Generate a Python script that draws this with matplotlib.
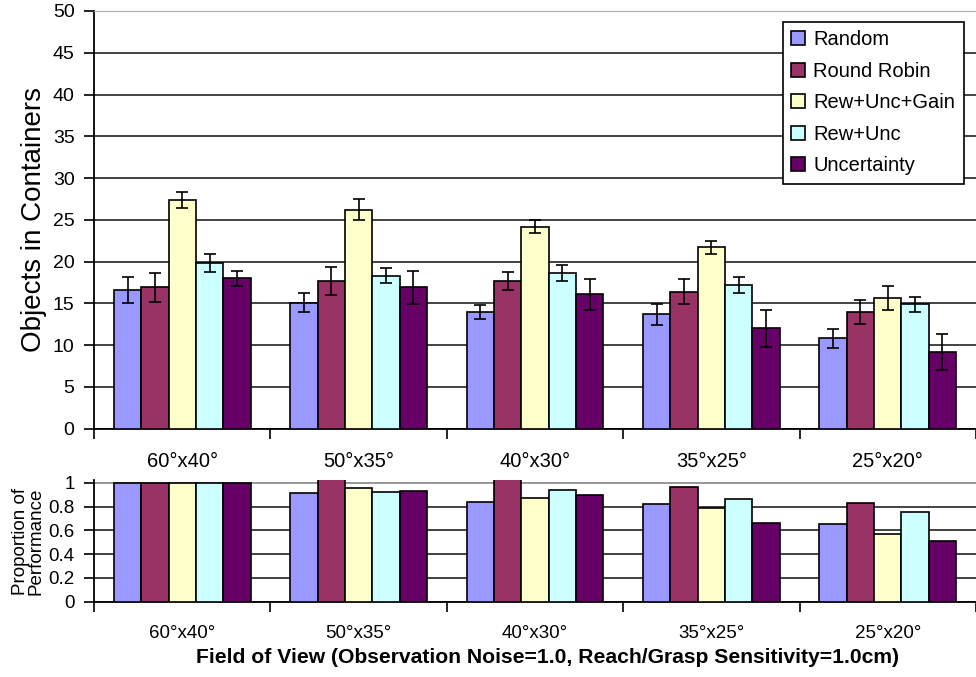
import numpy as np
import matplotlib
matplotlib.use('Agg')
import matplotlib.pyplot as plt

plt.rcParams['font.family'] = ['Liberation Sans', 'DejaVu Sans']

# field of view categories
fov = ['60°x40°', '50°x35°', '40°x30°', '35°x25°', '25°x20°']
methods = ['Random', 'Round Robin', 'Rew+Unc+Gain', 'Rew+Unc', 'Uncertainty']
colors = ['#9999FF', '#993366', '#FFFFCC', '#CCFFFF', '#660066']

# objects in containers (mean) per method
random_obj = [16.6, 15.1, 14.0, 13.7, 10.8]
rr_obj = [16.9, 17.7, 17.7, 16.4, 14.0]
rug_obj = [27.4, 26.2, 24.2, 21.7, 15.6]
ru_obj = [19.8, 18.3, 18.6, 17.2, 14.9]
unc_obj = [18.0, 16.9, 16.1, 12.0, 9.2]

# error bar half widths
random_err = [1.5, 1.1, 0.85, 1.25, 1.1]
rr_err = [1.7, 1.7, 1.1, 1.5, 1.45]
rug_err = [0.95, 1.25, 0.8, 0.8, 1.45]
ru_err = [1.05, 0.9, 0.95, 0.9, 0.9]
unc_err = [0.9, 1.95, 1.85, 2.2, 2.15]

# proportion of performance (relative to 60x40)
random_prop = [1.0, 0.91, 0.84, 0.82, 0.65]
rr_prop = [1.0, 1.05, 1.05, 0.965, 0.83]
rug_prop = [1.0, 0.955, 0.875, 0.79, 0.565]
ru_prop = [1.0, 0.92, 0.94, 0.865, 0.755]
unc_prop = [1.0, 0.93, 0.90, 0.665, 0.51]

obj = [random_obj, rr_obj, rug_obj, ru_obj, unc_obj]
err = [random_err, rr_err, rug_err, ru_err, unc_err]
prop = [random_prop, rr_prop, rug_prop, ru_prop, unc_prop]

x = np.arange(len(fov))
w = 0.155

fig = plt.figure(figsize=(9.76, 6.77), dpi=100)
ax = fig.add_axes([0.0963, 0.3668, 0.9037, 0.6170])
ax2 = fig.add_axes([0.0963, 0.1112, 0.9037, 0.1793])

grid_c = '#222222'

for k in range(5):
    pos = x + (k - 2) * w
    ax.bar(pos, obj[k], w, color=colors[k], edgecolor='black', linewidth=1.2,
           label=methods[k], zorder=3)
    ax.errorbar(pos, obj[k], yerr=err[k], fmt='none', ecolor='black',
                elinewidth=1.2, capsize=4.5, capthick=1.2, zorder=4)
    ax2.bar(pos, prop[k], w, color=colors[k], edgecolor='black', linewidth=1.2,
            zorder=3)

# top panel
ax.set_xlim(-0.5, 4.5)
ax.set_ylim(0, 50)
ax.set_yticks(np.arange(0, 51, 5))
ax.yaxis.grid(True, color=grid_c, linewidth=1.2, zorder=0)
ax.set_ylabel('Objects in Containers', fontsize=20, labelpad=4)
ax.set_xticks(np.arange(-0.5, 4.6, 1.0))
ax.set_xticklabels([])
ax.set_xticks(x, minor=True)
ax.set_xticklabels(fov, minor=True, fontsize=14.5)
ax.tick_params(axis='x', which='major', direction='out', length=7, width=1.2)
ax.tick_params(axis='x', which='minor', length=0, pad=17)
ax.tick_params(axis='y', direction='out', length=7, width=1.2, labelsize=14, pad=7)
ax.spines['right'].set_visible(False)
ax.spines['top'].set_color('#aaaaaa')
ax.spines['left'].set_linewidth(1.3)
ax.spines['bottom'].set_linewidth(1.3)
ax.set_axisbelow(True)

leg = ax.legend(loc='upper left', bbox_to_anchor=(0.781, 0.974), fontsize=14.5,
                frameon=True, fancybox=False, edgecolor='black', framealpha=1,
                handlelength=0.7, handleheight=0.7, handletextpad=0.4,
                labelspacing=0.62, borderpad=0.42, borderaxespad=0)
leg.get_frame().set_linewidth(1.2)

# bottom panel
ax2.set_xlim(-0.5, 4.5)
ax2.set_ylim(0, 1.02)
ax2.set_yticks([0, 0.2, 0.4, 0.6, 0.8, 1.0])
ax2.set_yticklabels(['0', '0.2', '0.4', '0.6', '0.8', '1'])
ax2.yaxis.grid(True, color=grid_c, linewidth=1.2, zorder=0)
ax2.axhline(1.0, color='#aaaaaa', linewidth=1.2, zorder=1)
ax2.set_ylabel('Proportion of\nPerformance', fontsize=13.5, labelpad=3, linespacing=0.85)
ax2.set_xticks(np.arange(-0.5, 4.6, 1.0))
ax2.set_xticklabels([])
ax2.set_xticks(x, minor=True)
ax2.set_xticklabels(fov, minor=True, fontsize=13.5)
ax2.tick_params(axis='x', which='major', direction='out', length=7, width=1.2)
ax2.tick_params(axis='x', which='minor', length=0, pad=17)
ax2.tick_params(axis='y', direction='out', length=7, width=1.2, labelsize=13.5, pad=7)
ax2.spines['right'].set_visible(False)
ax2.spines['top'].set_visible(False)
ax2.spines['left'].set_linewidth(1.3)
ax2.spines['bottom'].set_linewidth(1.3)
ax2.set_axisbelow(True)
ax2.set_xlabel('Field of View (Observation Noise=1.0, Reach/Grasp Sensitivity=1.0cm)',
               fontsize=15.2, fontweight='bold', labelpad=5)
ax2.xaxis.set_label_coords(0.514, -0.38)

plt.savefig('out.png', dpi=100)
plt.close('all')
